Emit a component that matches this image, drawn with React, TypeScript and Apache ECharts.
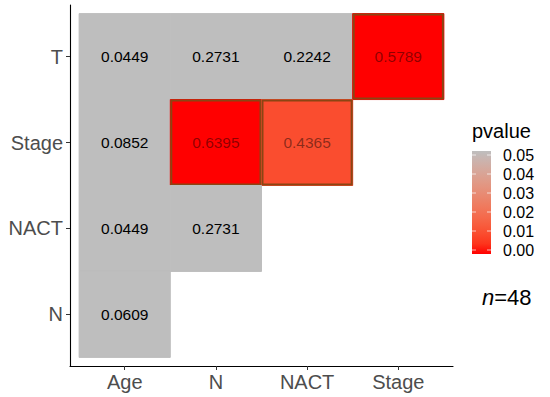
import React, { useEffect, useRef } from "react";
import * as echarts from "echarts";

const xCategories = ["Age", "N", "NACT", "Stage"];
const yCategories = ["N", "NACT", "Stage", "T"];

const cellX = ["Age", "N", "NACT", "Stage", "Age", "N", "NACT", "Age", "N", "Age"];
const cellY = ["T", "T", "T", "T", "Stage", "Stage", "Stage", "NACT", "NACT", "N"];
const rValues = [0.0449, 0.2731, 0.2242, 0.5789, 0.0852, 0.6395, 0.4365, 0.0449, 0.2731, 0.0609];
const pValues = [0.76, 0.06, 0.13, 0.0, 0.56, 0.0, 0.01, 0.76, 0.06, 0.68];

const legendTicks = [0.05, 0.04, 0.03, 0.02, 0.01, 0.0];
const legendTitle = "pvalue";
const sampleSize = 48;

const FONT = "'Liberation Sans', Arial, Helvetica, sans-serif";
const LOW = "#FF0000";
const HIGH = "#BEBEBE";
const P_MAX = 0.05;

// ---- Lab interpolation (like ggplot's colour ramp) ----
function hexToRgb(h: string) {
  const n = parseInt(h.slice(1), 16);
  return [(n >> 16) & 255, (n >> 8) & 255, n & 255];
}
function toLin(c: number) {
  c /= 255;
  return c <= 0.04045 ? c / 12.92 : Math.pow((c + 0.055) / 1.055, 2.4);
}
function fromLin(c: number) {
  const v = c <= 0.0031308 ? 12.92 * c : 1.055 * Math.pow(c, 1 / 2.4) - 0.055;
  return Math.max(0, Math.min(255, Math.round(v * 255)));
}
const Xn = 0.95047, Yn = 1.0, Zn = 1.08883;
function f(t: number) {
  return t > 216 / 24389 ? Math.cbrt(t) : (t * 24389 / 27 + 16) / 116;
}
function finv(t: number) {
  const t3 = t * t * t;
  return t3 > 216 / 24389 ? t3 : (116 * t - 16) * 27 / 24389;
}
function rgbToLab(rgb: number[]) {
  const [r, g, b] = rgb.map(toLin);
  const X = 0.4124 * r + 0.3576 * g + 0.1805 * b;
  const Y = 0.2126 * r + 0.7152 * g + 0.0722 * b;
  const Z = 0.0193 * r + 0.1192 * g + 0.9505 * b;
  const fx = f(X / Xn), fy = f(Y / Yn), fz = f(Z / Zn);
  return [116 * fy - 16, 500 * (fx - fy), 200 * (fy - fz)];
}
function labToHex(lab: number[]) {
  const fy = (lab[0] + 16) / 116;
  const fx = fy + lab[1] / 500;
  const fz = fy - lab[2] / 200;
  const X = finv(fx) * Xn, Y = finv(fy) * Yn, Z = finv(fz) * Zn;
  const r = 3.2406 * X - 1.5372 * Y - 0.4986 * Z;
  const g = -0.9689 * X + 1.8758 * Y + 0.0415 * Z;
  const b = 0.0557 * X - 0.204 * Y + 1.057 * Z;
  return "rgb(" + fromLin(r) + "," + fromLin(g) + "," + fromLin(b) + ")";
}
const labLow = rgbToLab(hexToRgb(LOW));
const labHigh = rgbToLab(hexToRgb(HIGH));
function pColor(p: number) {
  const t = Math.max(0, Math.min(1, p / P_MAX));
  return labToHex([0, 1, 2].map((i) => labLow[i] + (labHigh[i] - labLow[i]) * t));
}

export default function App() {
  const ref = useRef<HTMLDivElement>(null);
  useEffect(() => {
    if (!ref.current) return;
    const chart = echarts.init(ref.current, null, { renderer: "svg" });

    const data = rValues.map((r, i) => [
      xCategories.indexOf(cellX[i]) + 1,
      yCategories.indexOf(cellY[i]) + 1,
      r,
      pValues[i],
    ]);

    // legend geometry
    const barX = 472, barTop = 151, barH = 103, barW = 19;
    const tickTop = 155, tickBottom = 250;
    const tickY = (v: number) => tickBottom - (v / P_MAX) * (tickBottom - tickTop);
    const gradStops = [];
    for (let i = 0; i <= 10; i++) {
      gradStops.push({ offset: i / 10, color: pColor(P_MAX * (1 - i / 10)) });
    }

    const graphic: any[] = [
      {
        type: "text",
        left: barX,
        top: 121,
        style: { text: legendTitle, font: `20px ${FONT}`, fill: "#000" },
      },
      {
        type: "rect",
        shape: { x: barX, y: barTop, width: barW, height: barH },
        style: {
          fill: new echarts.graphic.LinearGradient(0, 0, 0, 1, gradStops),
        },
      },
    ];
    legendTicks.forEach((v) => {
      const y = tickY(v);
      graphic.push({
        type: "line",
        shape: { x1: barX, y1: y, x2: barX + 4, y2: y },
        style: { stroke: "rgba(255,255,255,0.7)", lineWidth: 1 },
      });
      graphic.push({
        type: "line",
        shape: { x1: barX + barW - 4, y1: y, x2: barX + barW, y2: y },
        style: { stroke: "rgba(255,255,255,0.7)", lineWidth: 1 },
      });
      graphic.push({
        type: "text",
        x: 503,
        y: y,
        style: {
          text: v.toFixed(2),
          font: `16px ${FONT}`,
          fill: "#000",
          verticalAlign: "middle",
          align: "left",
        },
      });
    });
    graphic.push({
      type: "text",
      x: 482,
      y: 297,
      style: {
        text: "{i|n}=" + sampleSize,
        font: `22px ${FONT}`,
        fill: "#000",
        verticalAlign: "middle",
        rich: { i: { fontStyle: "italic", fontSize: 22, fontFamily: FONT, fill: "#000" } },
      },
    });

    chart.setOption({
      animation: false,
      grid: { left: 70, top: 5, width: 383, height: 361 },
      xAxis: {
        type: "value",
        min: 0.4,
        max: 4.6,
        splitLine: { show: false },
        axisLine: { show: true, lineStyle: { color: "#000", width: 1.1 } },
        axisTick: {
          show: true,
          length: 4,
          lineStyle: { color: "#333" },
          customValues: xCategories.map((_, i) => i + 1),
        },
        axisLabel: {
          margin: 6,
          fontSize: 20,
          fontFamily: FONT,
          color: "#4D4D4D",
          customValues: xCategories.map((_, i) => i + 1),
          formatter: (v: number) => xCategories[Math.round(v) - 1] ?? "",
        },
      },
      yAxis: {
        type: "value",
        min: 0.4,
        max: 4.6,
        splitLine: { show: false },
        axisLine: { show: true, lineStyle: { color: "#000", width: 1.1 } },
        axisTick: {
          show: true,
          length: 4,
          lineStyle: { color: "#333" },
          customValues: yCategories.map((_, i) => i + 1),
        },
        axisLabel: {
          margin: 7,
          fontSize: 20,
          fontFamily: FONT,
          color: "#4D4D4D",
          customValues: yCategories.map((_, i) => i + 1),
          formatter: (v: number) => yCategories[Math.round(v) - 1] ?? "",
        },
      },
      series: [
        {
          type: "custom",
          data,
          encode: { x: 0, y: 1 },
          renderItem: (params: any, api: any) => {
            const x = api.value(0);
            const y = api.value(1);
            const r = api.value(2);
            const p = api.value(3);
            const tl = api.coord([x - 0.5, y + 0.5]);
            const br = api.coord([x + 0.5, y - 0.5]);
            const w = br[0] - tl[0];
            const h = br[1] - tl[1];
            const sig = p < P_MAX;
            const fill = pColor(p);
            const children: any[] = [
              {
                type: "rect",
                shape: { x: tl[0], y: tl[1], width: w, height: h },
                style: { fill, stroke: fill, lineWidth: 1 },
              },
            ];
            if (sig) {
              children.push({
                type: "rect",
                shape: { x: tl[0] + 1, y: tl[1] + 1, width: w - 2, height: h - 2 },
                style: { fill: "none", stroke: "#8B4513", lineWidth: 2 },
              });
            }
            children.push({
              type: "text",
              x: tl[0] + w / 2,
              y: tl[1] + h / 2,
              style: {
                text: Number(r).toFixed(4),
                font: `15.5px ${FONT}`,
                fill: sig ? "rgba(0,0,0,0.45)" : "#000",
                align: "center",
                verticalAlign: "middle",
              },
            });
            return { type: "group", children };
          },
        },
      ],
      graphic,
    });
    return () => chart.dispose();
  }, []);
  return (
    <div
      ref={ref}
      style={{ position: "fixed", left: 0, top: 0, width: 550, height: 397, background: "#fff" }}
    />
  );
}
